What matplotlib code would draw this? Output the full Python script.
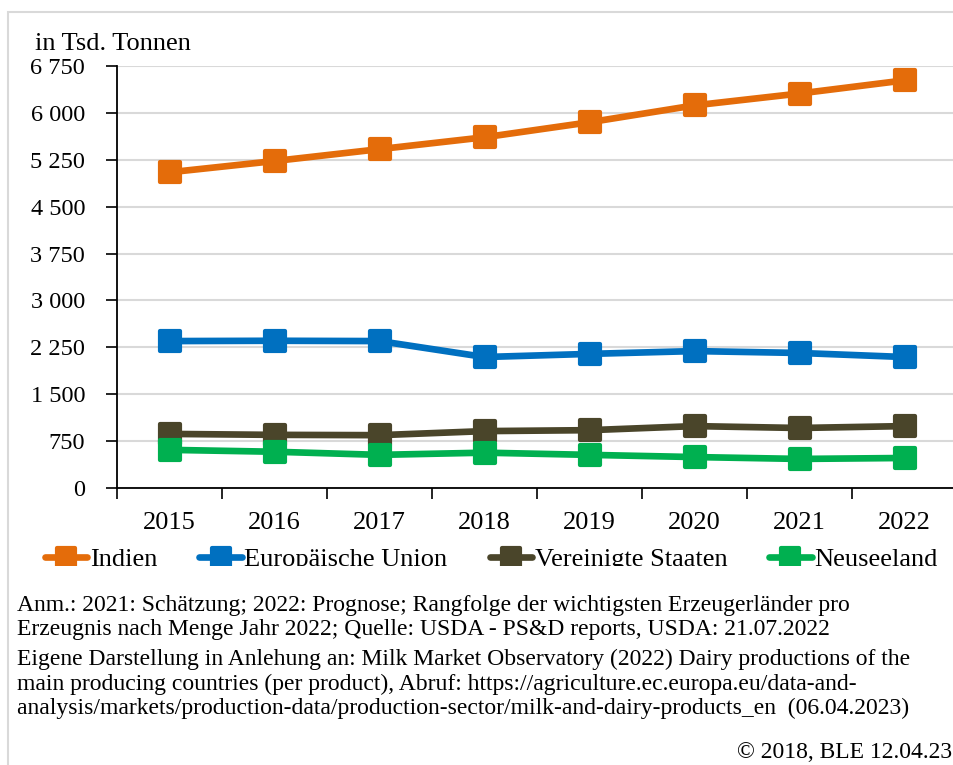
import matplotlib
matplotlib.use("Agg")
import matplotlib.pyplot as plt
from matplotlib.markers import MarkerStyle
from matplotlib.patches import Rectangle
from matplotlib.ticker import FixedLocator, FuncFormatter

plt.rcParams['font.family'] = ['Liberation Serif', 'DejaVu Serif']

years = ["2015", "2016", "2017", "2018", "2019", "2020", "2021", "2022"]
indien = [5050, 5230, 5420, 5610, 5850, 6120, 6310, 6520]
eu = [2350, 2355, 2350, 2095, 2145, 2190, 2160, 2095]
usa = [865, 850, 845, 910, 925, 990, 960, 990]
nz = [610, 580, 530, 565, 530, 495, 465, 480]
series_names = ["Indien", "Europäische Union", "Vereinigte Staaten", "Neuseeland"]
colors = ["#E46C0A", "#0070C0", "#4A452A", "#00B050"]
yticks = [0, 750, 1500, 2250, 3000, 3750, 4500, 5250, 6000, 6750]

W, H = 954, 765
fig = plt.figure(figsize=(W / 100, H / 100), dpi=100)

# outer frame
fig.add_artist(Rectangle((8 / W, -0.1), 1.2, 1 - 12 / H + 0.1, transform=fig.transFigure,
                         fill=False, edgecolor="#d9d9d9", linewidth=1.5, zorder=0))

ax = fig.add_axes([117 / W, 1 - 488 / H, (957 - 117) / W, (488 - 66) / H])
x = list(range(len(years)))
mk = MarkerStyle('s', joinstyle='round')
for vals, name, c in zip([indien, eu, usa, nz], series_names, colors):
    ax.plot(x, vals, color=c, linewidth=4.8, marker=mk, markersize=14.5,
            markeredgewidth=3, markeredgecolor=c, markerfacecolor=c,
            solid_joinstyle='round', solid_capstyle='round', label=name,
            clip_on=False, zorder=3)

ax.set_xlim(-0.5, len(years) - 0.5)
ax.set_ylim(0, 6750)
ax.set_yticks(yticks)
ax.yaxis.set_major_formatter(FuncFormatter(lambda v, p: f"{int(v):,}".replace(",", " ")))
ax.set_xticks(x)
ax.set_xticklabels(years)
ax.xaxis.set_minor_locator(FixedLocator([i - 0.5 for i in range(len(years) + 1)]))
ax.tick_params(axis='x', which='major', length=0, pad=17, labelsize=19)
ax.tick_params(axis='x', which='minor', length=8, width=1.2, color='black', direction='out')
ax.tick_params(axis='y', which='major', length=8, width=1.2, color='black', pad=15, labelsize=17.5)
ax.grid(axis='y', color='#d9d9d9', linewidth=1.5, zorder=0)
ax.set_axisbelow(True)
for s in ['top', 'right']:
    ax.spines[s].set_visible(False)
for s in ['left', 'bottom']:
    ax.spines[s].set_color('black')
    ax.spines[s].set_linewidth(1.3)

fig.text(35 / W, 1 - 44 / H, "in Tsd. Tonnen", fontsize=19, va='center', ha='left')

handles, labels = ax.get_legend_handles_labels()
leg = fig.legend(handles, labels, loc='center left', bbox_to_anchor=(45 / W, 1 - 559 / H),
                 ncol=4, frameon=False, fontsize=19, handlelength=1.6, handletextpad=0.1,
                 columnspacing=1.6, borderpad=0, borderaxespad=0, markerscale=0.85)
leg.set_zorder(5)
# clipped legend bottom
fig.add_artist(Rectangle((10 / W, 1 - 585 / H), 1, (585 - 566) / H, transform=fig.transFigure,
                         facecolor='white', edgecolor='none', zorder=10))

notes = [
    "Anm.: 2021: Schätzung; 2022: Prognose; Rangfolge der wichtigsten Erzeugerländer pro",
    "Erzeugnis nach Menge Jahr 2022; Quelle: USDA - PS&D reports, USDA: 21.07.2022",
    "Eigene Darstellung in Anlehung an: Milk Market Observatory (2022) Dairy productions of the",
    "main producing countries (per product), Abruf: https://agriculture.ec.europa.eu/data-and-",
    "analysis/markets/production-data/production-sector/milk-and-dairy-products_en  (06.04.2023)",
]
note_y = [605, 630, 659, 684, 708]
for t, yy in zip(notes, note_y):
    fig.text(17 / W, 1 - yy / H, t, fontsize=17, va='center', ha='left', zorder=11)
fig.text(952 / W, 1 - 752 / H, "© 2018, BLE 12.04.23", fontsize=17, va='center', ha='right', zorder=11)

fig.savefig("out.png", dpi=100)
